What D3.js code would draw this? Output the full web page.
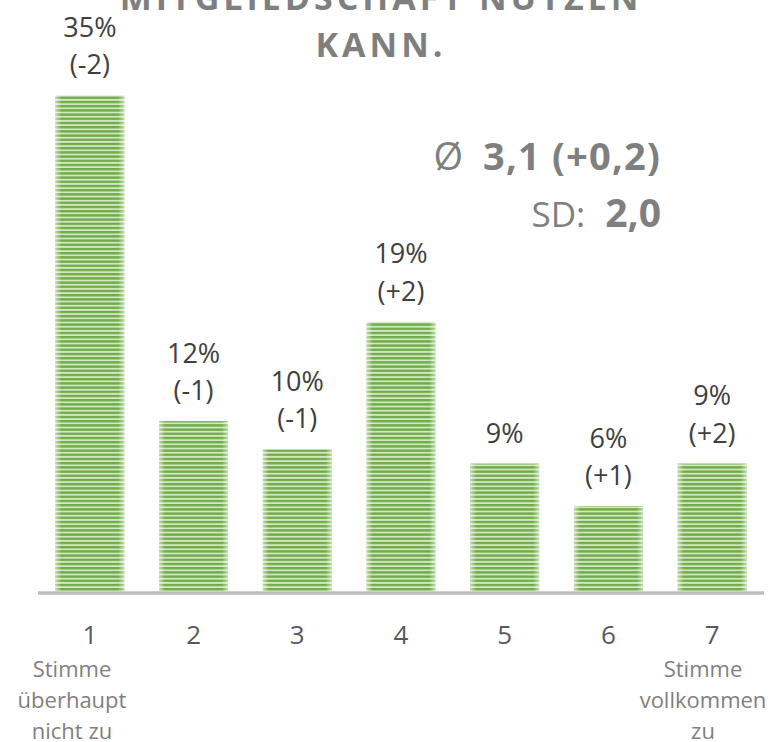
<!DOCTYPE html>
<html>
<head>
<meta charset="utf-8">
<script src="https://cdn.jsdelivr.net/npm/d3@7"></script>
<style>
  html, body { margin: 0; padding: 0; background: #ffffff; }
  svg { display: block; font-family: "Open Sans", "DejaVu Sans", sans-serif; }
</style>
</head>
<body>
<svg id="chart" width="771" height="742"></svg>
<script>
// Answer scale 1..7 with share of respondents (%) and change vs. previous wave
const categories = ["1", "2", "3", "4", "5", "6", "7"];
const shares = [35, 12, 10, 19, 9, 6, 9];
const changes = ["(-2)", "(-1)", "(-1)", "(+2)", "", "(+1)", "(+2)"];
const titleLines = ["MITGLIEDSCHAFT NUTZEN", "KANN."];
const anchorLow = ["Stimme", "überhaupt", "nicht zu"];
const anchorHigh = ["Stimme", "vollkommen", "zu"];
const meanText = ["Ø", "3,1 (+0,2)"];
const sdText = ["SD:", "2,0"];

const W = 771, H = 742;
const baseY = 591;
const svg = d3.select("#chart");

const x = d3.scaleBand()
  .domain(categories)
  .range([38, 764])
  .paddingInner(0.335)
  .paddingOuter(0.1675);

const y = d3.scaleLinear()
  .domain([0, 40])
  .range([baseY, baseY - 14.16 * 40]);

// Striped green fill with soft light edges
const defs = svg.append("defs");
const pat = defs.append("pattern")
  .attr("id", "stripes")
  .attr("patternUnits", "userSpaceOnUse")
  .attr("width", 8).attr("height", 4.2);
pat.append("rect").attr("width", 8).attr("height", 4.2).attr("fill", "#d3e6c6");
pat.append("rect").attr("y", 0).attr("width", 8).attr("height", 2.4).attr("fill", "#70ad47");

const edge = defs.append("linearGradient")
  .attr("id", "edgeGlow")
  .attr("x1", "0%").attr("x2", "100%").attr("y1", "0%").attr("y2", "0%");
[[0, 0.55], [0.09, 0.0], [0.91, 0.0], [1, 0.55]].forEach(([o, a]) => {
  edge.append("stop").attr("offset", o).attr("stop-color", "#ffffff").attr("stop-opacity", a);
});

const data = categories.map((c, i) => ({ c, v: shares[i], d: changes[i] }));

const bars = svg.append("g");
bars.selectAll("rect.bar")
  .data(data)
  .join("rect")
  .attr("class", "bar")
  .attr("x", d => x(d.c))
  .attr("y", d => y(d.v))
  .attr("width", x.bandwidth())
  .attr("height", d => y(0) - y(d.v))
  .attr("fill", "url(#stripes)");
bars.selectAll("rect.glow")
  .data(data)
  .join("rect")
  .attr("class", "glow")
  .attr("x", d => x(d.c))
  .attr("y", d => y(d.v))
  .attr("width", x.bandwidth())
  .attr("height", d => y(0) - y(d.v))
  .attr("fill", "url(#edgeGlow)");

// Category axis
const axis = svg.append("g")
  .attr("transform", `translate(0,${baseY + 2})`)
  .call(d3.axisBottom(x).tickSize(0).tickPadding(0));
axis.select(".domain")
  .attr("stroke", "#bfbfbf")
  .attr("stroke-width", 3.5)
  .attr("d", `M${x.range()[0]},0H${x.range()[1]}`);
axis.selectAll(".tick text")
  .attr("y", 51)
  .attr("dy", 0)
  .attr("fill", "#595959")
  .attr("font-size", 26)
  .attr("font-family", "Open Sans, sans-serif");

// Value labels above bars
const labels = svg.append("g")
  .attr("font-size", 27)
  .attr("fill", "#404040")
  .attr("text-anchor", "middle");
data.forEach(d => {
  const cx = x(d.c) + x.bandwidth() / 2;
  const lines = d.d ? [d.v + "%", d.d] : [d.v + "%"];
  const lastY = y(d.v) - 21;
  lines.forEach((t, j) => {
    labels.append("text")
      .attr("x", cx)
      .attr("y", lastY - (lines.length - 1 - j) * 37.5)
      .text(t);
  });
});

// Scale anchor descriptions
function anchorBlock(lines, cx) {
  const g = svg.append("g")
    .attr("font-size", 22)
    .attr("fill", "#7f7f7f")
    .attr("text-anchor", "middle");
  lines.forEach((t, j) => {
    g.append("text").attr("x", cx).attr("y", 677 + j * 31).text(t);
  });
}
anchorBlock(anchorLow, 72);
anchorBlock(anchorHigh, 703);

// Title (continues above the visible area)
const title = svg.append("g")
  .attr("font-size", 34)
  .attr("font-weight", 700)
  .attr("fill", "#7f7f7f")
  .attr("letter-spacing", 4)
  .attr("text-anchor", "middle");
titleLines.forEach((t, j) => {
  title.append("text").attr("x", 381).attr("y", 10 + j * 47).text(t);
});

// Mean and standard deviation
const meanG = svg.append("text")
  .attr("x", 661).attr("y", 170)
  .attr("text-anchor", "end")
  .attr("fill", "#7f7f7f");
meanG.append("tspan").attr("font-size", 38).text(meanText[0]);
meanG.append("tspan").attr("dx", 20).attr("font-size", 38).attr("font-weight", 700)
  .attr("letter-spacing", 1.2).text(meanText[1]);

const sdG = svg.append("text")
  .attr("x", 661).attr("y", 227)
  .attr("text-anchor", "end")
  .attr("fill", "#7f7f7f");
sdG.append("tspan").attr("font-size", 35).text(sdText[0]);
sdG.append("tspan").attr("dx", 20).attr("font-size", 39).attr("font-weight", 700).text(sdText[1]);
</script>
</body>
</html>
